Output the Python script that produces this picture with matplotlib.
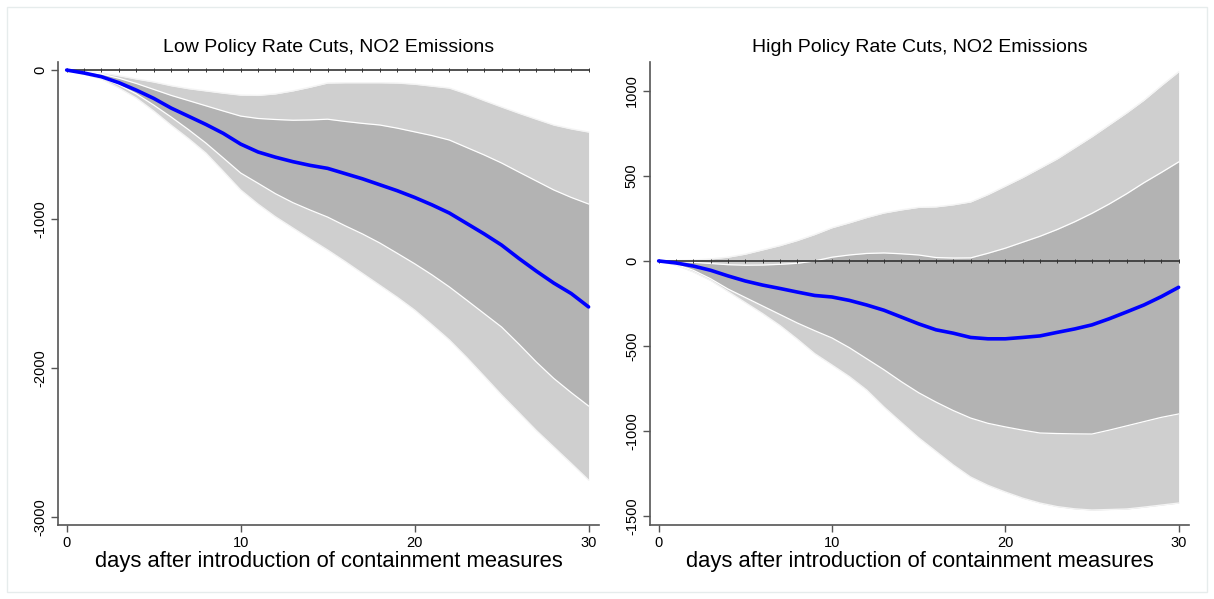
import numpy as np
import matplotlib.pyplot as plt
from matplotlib.patches import Rectangle

plt.rcParams["font.family"] = ["Liberation Sans", "DejaVu Sans"]

days = list(range(31))

# Low policy rate cuts
low_irf = [0, -20, -45, -85, -135, -190, -255, -310, -365, -425, -497, -550, -585, -615,
           -640, -660, -695, -730, -770, -810, -855, -905, -960, -1030, -1100, -1175,
           -1265, -1350, -1430, -1500, -1590]
low_hi90 = [0, -8, -20, -38, -60, -80, -105, -125, -140, -155, -168, -170, -160, -140,
            -115, -87, -85, -85, -85, -87, -95, -108, -121, -160, -205, -248, -290, -330,
            -369, -395, -416]
low_hi68 = [0, -10, -27, -55, -90, -130, -170, -205, -240, -275, -309, -325, -332, -337,
            -335, -330, -345, -358, -369, -390, -415, -440, -470, -520, -570, -624, -685,
            -745, -805, -855, -899]
low_lo68 = [0, -25, -54, -100, -160, -235, -315, -400, -490, -590, -691, -760, -830, -890,
            -940, -987, -1045, -1100, -1161, -1230, -1300, -1375, -1456, -1545, -1635,
            -1725, -1840, -1960, -2070, -2165, -2255]
low_lo90 = [0, -28, -60, -120, -188, -275, -370, -460, -557, -680, -805, -900, -985, -1060,
            -1135, -1208, -1285, -1365, -1445, -1525, -1611, -1710, -1812, -1930, -2055,
            -2181, -2300, -2420, -2530, -2640, -2752]

# High policy rate cuts
high_irf = [0, -12, -30, -55, -88, -118, -142, -162, -183, -203, -212, -232, -259, -290,
            -330, -370, -405, -425, -450, -458, -458, -450, -441, -420, -400, -376, -340,
            -300, -259, -210, -155]
high_hi90 = [0, 2, 5, 12, 22, 40, 65, 90, 120, 155, 195, 224, 255, 282, 300, 315, 318, 330,
             347, 390, 440, 490, 545, 600, 665, 730, 800, 870, 945, 1030, 1112]
high_hi68 = [0, -3, -8, -15, -22, -25, -24, -20, -14, 0, 22, 35, 44, 47, 42, 35, 20, 17, 18,
             45, 75, 110, 145, 185, 230, 280, 335, 395, 460, 520, 582]
high_lo68 = [0, -20, -55, -105, -165, -215, -265, -315, -365, -410, -453, -510, -575, -640,
             -710, -775, -830, -880, -924, -955, -976, -995, -1012, -1015, -1017, -1018,
             -995, -970, -945, -920, -900]
high_lo90 = [0, -25, -65, -115, -180, -245, -310, -380, -460, -545, -612, -680, -759, -859,
             -950, -1040, -1120, -1200, -1271, -1320, -1359, -1395, -1424, -1445, -1458,
             -1465, -1462, -1459, -1448, -1436, -1424]

panels = [
    ("Low Policy Rate Cuts, NO2 Emissions", low_irf, low_hi90, low_hi68, low_lo68, low_lo90,
     [0, -1000, -2000, -3000], (-3054, 54)),
    ("High Policy Rate Cuts, NO2 Emissions", high_irf, high_hi90, high_hi68, high_lo68, high_lo90,
     [1000, 500, 0, -500, -1000, -1500], (-1553, 1170)),
]
positions = [
    [58 / 1214, 74 / 599, 541 / 1214, 463 / 599],
    [650 / 1214, 74 / 599, 539 / 1214, 463 / 599],
]

fig = plt.figure(figsize=(12.14, 5.99), dpi=100)
fig.patches.append(Rectangle((7 / 1214, 7 / 599), 1200 / 1214, 585 / 599,
                             transform=fig.transFigure, fill=False,
                             edgecolor="#e6ecec", linewidth=1))

for pos, (title, irf, hi90, hi68, lo68, lo90, yticks, ylim) in zip(positions, panels):
    ax = fig.add_axes(pos)
    x = np.array(days)
    ax.fill_between(x, lo90, hi90, color="#cfcfcf", linewidth=0)
    ax.fill_between(x, lo68, hi68, color="#b3b3b3", linewidth=0)
    for band in (hi90, lo90):
        ax.plot(x, band, color="#f4f4f4", linewidth=1.0)
    for band in (hi68, lo68):
        ax.plot(x, band, color="white", linewidth=0.9)
    ax.plot(x, np.zeros_like(x), color="#333333", linewidth=1.2,
            marker="|", markersize=2.5, markeredgewidth=0.7)
    ax.plot(x, irf, color="#0000ff", linewidth=2.6, solid_capstyle="round")

    ax.set_xlim(-0.5, 30.6)
    ax.set_ylim(*ylim)
    ax.set_xticks([0, 10, 20, 30])
    ax.set_yticks(yticks)
    ax.set_yticklabels([str(v) for v in yticks], rotation=90, va="center")
    ax.tick_params(axis="both", labelsize=10.5, length=5, width=1, color="#555555",
                   direction="out")
    ax.tick_params(axis="x", pad=3)
    ax.tick_params(axis="y", pad=3)
    for side in ("top", "right"):
        ax.spines[side].set_visible(False)
    for side in ("left", "bottom"):
        ax.spines[side].set_color("#555555")
        ax.spines[side].set_linewidth(1.2)
    ax.set_title(title, fontsize=14, pad=7)
    ax.set_xlabel("days after introduction of containment measures", fontsize=15.8, labelpad=1)

fig.savefig("out.png", dpi=100)
